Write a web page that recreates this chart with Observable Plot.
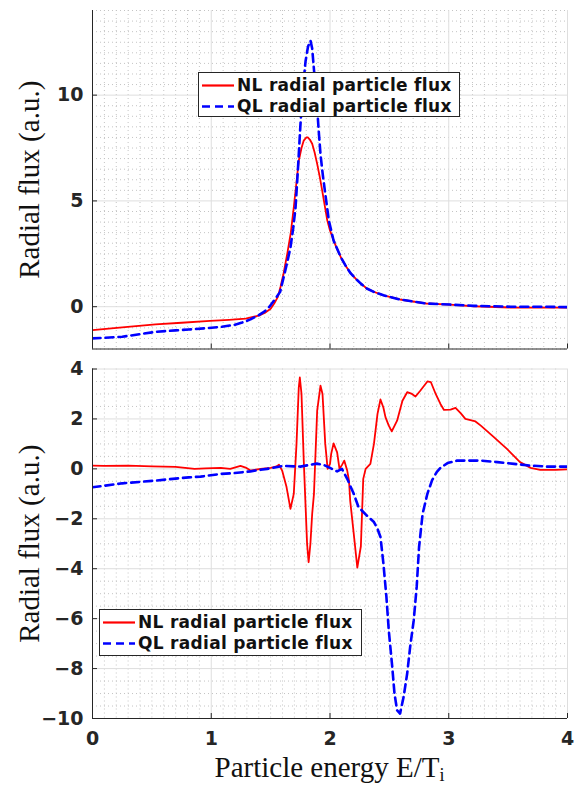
<!DOCTYPE html>
<html>
<head>
<meta charset="utf-8">
<script src="https://cdn.jsdelivr.net/npm/d3@7"></script>
<script src="https://cdn.jsdelivr.net/npm/@observablehq/plot@0.6"></script>
<style>
  body { margin: 0; background: #fff; }
  #wrap { position: relative; width: 579px; height: 785px; overflow: hidden; }
  #wrap svg { display: block; }
  .legend { position: absolute; background: #fff; border: 1px solid #262626; box-sizing: border-box;
            font-family: "DejaVu Sans", sans-serif; font-weight: bold; font-size: 17px; letter-spacing: 0.3px; color: #111; }
  .row { position: absolute; left: 0; height: 20px; line-height: 20px; white-space: nowrap; }
  .row svg { position: absolute; left: 2px; top: 0; }
  .row span { position: absolute; left: 38px; top: 0; }
  .xlabel { position: absolute; font-family: "Liberation Serif", serif; font-size: 29px; color: #111; text-align: center; white-space: nowrap; line-height: 1; }
</style>
</head>
<body>
<div id="wrap"></div>
<script>
// ---------- data ----------
const xTicks = [0, 1, 2, 3, 4];
const yTicksTop = [0, 5, 10];
const yTicksBottom = [-10, -8, -6, -4, -2, 0, 2, 4];
const seriesNames = ["NL radial particle flux", "QL radial particle flux"];
const yLabel = "Radial flux (a.u.)";

// top panel, nonlinear (NL)
const topNL_E = [0, 0.25, 0.53, 0.75, 0.99, 1.15, 1.29, 1.40, 1.45, 1.50, 1.53, 1.56, 1.583, 1.61, 1.64, 1.67, 1.695, 1.72, 1.737, 1.76, 1.779, 1.80, 1.813, 1.83, 1.85, 1.87, 1.892, 1.915, 1.934, 1.955, 1.977, 2.0, 2.02, 2.05, 2.09, 2.13, 2.175, 2.22, 2.26, 2.31, 2.37, 2.45, 2.59, 2.81, 3.01, 3.21, 3.52, 3.75, 4.0];
const topNL_F = [-1.11, -0.98, -0.84, -0.76, -0.67, -0.62, -0.56, -0.42, -0.3, -0.1, 0.15, 0.45, 0.93, 1.6, 2.5, 3.5, 4.7, 6.0, 6.9, 7.5, 7.85, 8.0, 8.0, 7.9, 7.7, 7.3, 6.75, 6.1, 5.5, 4.8, 4.08, 3.6, 3.3, 2.85, 2.35, 1.95, 1.57, 1.3, 1.09, 0.86, 0.70, 0.54, 0.34, 0.15, 0.10, 0.02, -0.04, -0.04, -0.04];

// top panel, quasilinear (QL)
const topQL_E = [0, 0.1, 0.25, 0.4, 0.53, 0.7, 0.81, 0.95, 1.09, 1.2, 1.26, 1.33, 1.40, 1.45, 1.49, 1.53, 1.58, 1.61, 1.64, 1.667, 1.69, 1.71, 1.73, 1.75, 1.77, 1.794, 1.815, 1.836, 1.85, 1.865, 1.88, 1.892, 1.905, 1.92, 1.94, 1.96, 1.99, 2.03, 2.09, 2.13, 2.175, 2.22, 2.26, 2.31, 2.37, 2.45, 2.59, 2.81, 3.01, 3.21, 3.52, 3.75, 4.0];
const topQL_F = [-1.5, -1.47, -1.42, -1.3, -1.19, -1.12, -1.08, -1.02, -0.95, -0.85, -0.75, -0.6, -0.4, -0.22, 0.0, 0.3, 0.7, 1.4, 2.1, 2.8, 3.7, 4.7, 6.5, 8.5, 10.2, 11.6, 12.3, 12.57, 12.2, 11.2, 10.3, 9.4, 8.3, 7.2, 6.2, 5.35, 4.08, 3.13, 2.35, 1.95, 1.57, 1.3, 1.09, 0.86, 0.70, 0.54, 0.34, 0.15, 0.10, 0.04, 0.0, 0.0, -0.02];

// bottom panel, nonlinear (NL)
const botNL_E = [0, 0.1, 0.3, 0.5, 0.7, 0.86, 0.95, 1.08, 1.16, 1.246, 1.29, 1.33, 1.415, 1.5, 1.55, 1.57, 1.597, 1.634, 1.667, 1.695, 1.718, 1.737, 1.746, 1.76, 1.779, 1.807, 1.82, 1.835, 1.85, 1.865, 1.892, 1.92, 1.937, 1.96, 1.98, 2.0, 2.01, 2.03, 2.06, 2.08, 2.10, 2.12, 2.145, 2.16, 2.17, 2.2, 2.23, 2.26, 2.28, 2.30, 2.34, 2.37, 2.40, 2.425, 2.45, 2.467, 2.495, 2.52, 2.565, 2.61, 2.65, 2.69, 2.72, 2.76, 2.82, 2.85, 2.89, 2.93, 2.96, 3.015, 3.057, 3.10, 3.14, 3.225, 3.27, 3.38, 3.49, 3.60, 3.69, 3.77, 3.9, 4.0];
const botNL_F = [0.13, 0.12, 0.13, 0.1, 0.08, 0.0, 0.02, 0.04, 0.0, 0.12, 0.05, -0.07, 0.0, 0.04, 0.1, 0.17, -0.07, -0.73, -1.6, -1.0, 1.0, 3.26, 3.66, 3.0, 0.33, -3.0, -3.74, -3.0, -1.8, -1.0, 2.33, 3.33, 3.0, 1.0, 0.0, 0.2, 0.6, 1.02, 0.66, 0.0, 0.15, 0.33, -0.07, -0.47, -1.27, -2.6, -3.96, -3.1, -0.4, 0.0, 0.2, 1.0, 2.2, 2.78, 2.45, 2.07, 1.73, 1.5, 1.93, 2.73, 3.07, 3.0, 2.9, 3.13, 3.5, 3.47, 3.0, 2.6, 2.36, 2.37, 2.44, 2.23, 2.0, 1.9, 1.73, 1.27, 0.8, 0.27, 0.04, -0.04, -0.04, -0.02];

// bottom panel, quasilinear (QL)
const botQL_E = [0, 0.25, 0.53, 0.81, 0.91, 1.09, 1.19, 1.33, 1.47, 1.61, 1.75, 1.89, 1.95, 2.0, 2.06, 2.10, 2.145, 2.2, 2.24, 2.31, 2.37, 2.40, 2.425, 2.45, 2.475, 2.495, 2.524, 2.543, 2.565, 2.59, 2.62, 2.65, 2.675, 2.705, 2.73, 2.75, 2.78, 2.82, 2.86, 2.9, 2.93, 2.99, 3.07, 3.27, 3.41, 3.55, 3.69, 3.83, 4.0];
const botQL_F = [-0.74, -0.58, -0.47, -0.34, -0.31, -0.2, -0.17, -0.1, 0.0, 0.12, 0.09, 0.21, 0.15, 0.04, -0.1, 0.0, -0.4, -1.0, -1.53, -1.87, -2.13, -2.4, -2.73, -3.8, -5.13, -6.47, -7.93, -9.0, -9.67, -9.8, -9.13, -8.2, -7.13, -6.07, -4.73, -3.13, -1.8, -1.0, -0.45, -0.12, 0.04, 0.23, 0.33, 0.33, 0.27, 0.2, 0.13, 0.09, 0.09];

// ---------- helpers ----------
const rows = (E, F) => E.map((e, i) => ({E: e, F: F[i]}));
const RED = "#ff0000", BLUE = "#0000ff", AX = "#262626";
const W = 579, ML = 92, MR = 12;
const minorX = d3.range(0, 40.5, 1).map(d => d / 10).filter(d => !xTicks.includes(d));
const fmt = d => (d < 0 ? "\u2212" : "") + Math.abs(d);

function panel({height, mt, mb, domain, yTicks, nl, ql, showX}) {
  const minorY = d3.range(domain[0] * 2, domain[1] * 2 + 0.5, 1).map(d => d / 2).filter(d => !yTicks.includes(d));
  const fh = height - mt - mb, fw = W - ML - MR;
  const tickFont = {fontSize: 19, fontWeight: "bold", fontFamily: "DejaVu Sans", fill: AX};
  const marks = [
    Plot.ruleX(minorX, {x: d => d, stroke: "#c4c4c4", strokeDasharray: "1,3", strokeWidth: 1}),
    Plot.ruleY(minorY, {y: d => d, stroke: "#c4c4c4", strokeDasharray: "1,3", strokeWidth: 1}),
    Plot.ruleX(xTicks, {x: d => d, stroke: "#dedede", strokeWidth: 1}),
    Plot.ruleY(yTicks, {y: d => d, stroke: "#dedede", strokeWidth: 1}),
    Plot.line(rows(nl[0], nl[1]), {x: "E", y: "F", stroke: RED, strokeWidth: 1.8, clip: true}),
    Plot.line(rows(ql[0], ql[1]), {x: "E", y: "F", stroke: BLUE, strokeWidth: 2.6, strokeDasharray: "8,5", clip: true}),
    Plot.ruleX([0], {x: d => d, stroke: AX, strokeWidth: 1}),
    Plot.ruleY([domain[0]], {y: d => d, stroke: AX, strokeWidth: 1}),
    Plot.tickX(xTicks, {x: d => d, stroke: AX, insetTop: fh - 5}),
    Plot.tickY(yTicks, {y: d => d, stroke: AX, insetRight: fw - 5}),
    Plot.axisY(yTicks, {tickSize: 0, tickPadding: 9, label: null, tickFormat: fmt, ...tickFont}),
    Plot.text([yLabel], {frameAnchor: "left", textAnchor: "middle", dx: -63, rotate: -90, fontFamily: "Liberation Serif", fontSize: 29, fill: "#111", text: d => d})
  ];
  if (showX) marks.push(Plot.axisX(xTicks, {tickSize: 0, tickPadding: 13, label: null, tickFormat: fmt, ...tickFont}));
  return Plot.plot({
    width: W, height, marginLeft: ML, marginRight: MR, marginTop: mt, marginBottom: mb,
    x: {domain: [0, 4], axis: null},
    y: {domain, axis: null},
    style: {background: "transparent", overflow: "visible"},
    marks
  });
}

const wrap = document.getElementById("wrap");
wrap.appendChild(panel({height: 358, mt: 10, mb: 9.5, domain: [-2, 14], yTicks: yTicksTop, nl: [topNL_E, topNL_F], ql: [topQL_E, topQL_F], showX: false}));
wrap.appendChild(panel({height: 427, mt: 10.5, mb: 67, domain: [-10, 4], yTicks: yTicksBottom, nl: [botNL_E, botNL_F], ql: [botQL_E, botQL_F], showX: true}));

// legends
function legend(left, top, width, height) {
  const box = document.createElement("div");
  box.className = "legend";
  Object.assign(box.style, {left: left + "px", top: top + "px", width: width + "px", height: height + "px"});
  seriesNames.forEach((name, i) => {
    const r = document.createElement("div");
    r.className = "row";
    r.style.top = (2 + i * 21) + "px";
    const col = i === 0 ? RED : BLUE;
    const dash = i === 0 ? "" : `stroke-dasharray="8,5"`;
    r.innerHTML = `<svg width="34" height="20"><line x1="1" x2="33" y1="10.5" y2="10.5" stroke="${col}" stroke-width="${i === 0 ? 2.2 : 2.6}" ${dash}/></svg><span>${name}</span>`;
    box.appendChild(r);
  });
  wrap.appendChild(box);
}
legend(198, 72, 262, 45);
legend(99, 609, 263, 47);

// x label
const xl = document.createElement("div");
xl.className = "xlabel";
Object.assign(xl.style, {left: ML + "px", width: (W - ML - MR) + "px", top: "753px"});
xl.innerHTML = "Particle energy E/T<sub style=\"font-size:18px;vertical-align:-4px\">i</sub>";
wrap.appendChild(xl);
</script>
</body>
</html>
